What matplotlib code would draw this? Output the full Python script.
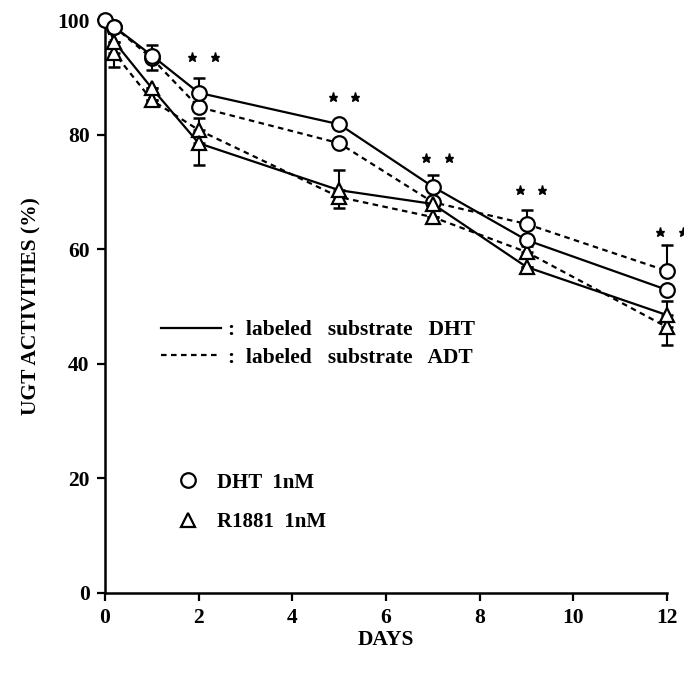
import matplotlib
matplotlib.use("Agg")
import matplotlib.pyplot as plt
from matplotlib.lines import Line2D
import numpy as np

plt.rcParams['font.family'] = ['Liberation Serif', 'DejaVu Serif']
plt.rcParams['font.weight'] = 'bold'

days = [0, 0.2, 1, 2, 5, 7, 9, 12]

# DHT 1nM (circles)
dht_sub_dht = [100, 98.8, 93.8, 87.3, 81.8, 70.9, 61.6, 52.9]   # solid
dht_sub_adt = [100, 98.8, 93.3, 84.8, 78.5, 68.2, 64.4, 56.2]   # dashed
# R1881 1nM (triangles)
r1881_sub_dht = [100, 96.2, 88.1, 78.5, 70.3, 67.9, 56.9, 48.5]  # solid
r1881_sub_adt = [100, 94.2, 86.0, 80.8, 69.1, 65.6, 59.5, 46.4]  # dashed

# error bars (lower, upper)
dht_sub_dht_lo = [0, 0, 0, 0, 0, 0, 0, 0]
dht_sub_dht_hi = [0, 0, 1.8, 2.6, 0, 2.1, 0, 0]
dht_sub_adt_lo = [0, 0, 2.0, 0, 0, 0, 0, 0]
dht_sub_adt_hi = [0, 0, 0, 0, 0, 0, 2.5, 4.5]
r1881_sub_dht_lo = [0, 0, 0, 3.8, 0, 0, 0, 0]
r1881_sub_dht_hi = [0, 0, 0, 0, 3.5, 0, 0, 2.5]
r1881_sub_adt_lo = [0, 2.4, 0, 0, 1.9, 0, 0, 3.1]
r1881_sub_adt_hi = [0, 0, 0, 2.1, 0, 0, 1.0, 0]

# significance stars
star_days = [2, 5, 7, 9, 12]
star_vals = [93.5, 86.6, 75.9, 70.3, 63.0]
star_offsets = [-0.14, 0.34]

x_ticks = [0, 2, 4, 6, 8, 10, 12]
y_ticks = [0, 20, 40, 60, 80, 100]

fig = plt.figure(figsize=(6.84, 6.74), dpi=100)
ax = fig.add_axes([105/684, 1-593/674, (667-105)/684, (593-20)/674])

lw = 1.6
ms = 10.5
dash = (0, (2.5, 2.0))

def series(y, lo, hi, marker, ls, skip_first):
    n = len(days)
    me = list(range(1, n)) if skip_first else list(range(n))
    ax.errorbar(days, y, yerr=[lo, hi], fmt='none', ecolor='black',
                elinewidth=1.5, capsize=4, capthick=1.8, clip_on=False, zorder=2)
    ax.plot(days, y, color='black', lw=lw, linestyle=ls, marker=marker,
            markersize=ms, markerfacecolor='white', markeredgecolor='black',
            markeredgewidth=1.6, markevery=me, clip_on=False, zorder=3)

series(dht_sub_adt, dht_sub_adt_lo, dht_sub_adt_hi, 'o', dash, True)
series(r1881_sub_adt, r1881_sub_adt_lo, r1881_sub_adt_hi, '^', dash, True)
series(r1881_sub_dht, r1881_sub_dht_lo, r1881_sub_dht_hi, '^', '-', True)
series(dht_sub_dht, dht_sub_dht_lo, dht_sub_dht_hi, 'o', '-', False)

for d, v in zip(star_days, star_vals):
    for o in star_offsets:
        ax.plot([d + o], [v], marker='*', color='black', markersize=6.5,
                linestyle='none', clip_on=False, zorder=4)

ax.set_xlim(0, 12)
ax.set_ylim(0, 100)
ax.set_xticks(x_ticks)
ax.set_yticks(y_ticks)
ax.tick_params(labelsize=15.5, width=1.6, length=6, pad=5)
for s in ['top', 'right']:
    ax.spines[s].set_visible(False)
for s in ['left', 'bottom']:
    ax.spines[s].set_linewidth(1.8)

ax.set_xlabel('DAYS', fontsize=15.5, fontweight='bold', labelpad=1)
ax.set_ylabel('UGT ACTIVITIES (%)', fontsize=15.5, fontweight='bold', labelpad=11)

h1 = [Line2D([], [], color='black', lw=lw, linestyle='-'),
      Line2D([], [], color='black', lw=lw, linestyle=dash)]
leg1 = ax.legend(h1, [':  labeled   substrate   DHT', ':  labeled   substrate   ADT'],
                 loc='upper left', bbox_to_anchor=(0.065, 0.51), frameon=False,
                 handlelength=2.8, handletextpad=0.3, labelspacing=0.35,
                 prop={'family': 'Liberation Serif', 'weight': 'bold', 'size': 15.5})
ax.add_artist(leg1)

h2 = [Line2D([], [], color='black', lw=0, marker='o', markersize=ms,
             markerfacecolor='white', markeredgewidth=1.6),
      Line2D([], [], color='black', lw=0, marker='^', markersize=ms,
             markerfacecolor='white', markeredgewidth=1.6)]
ax.legend(h2, ['DHT  1nM', 'R1881  1nM'], loc='upper left',
          bbox_to_anchor=(0.095, 0.243), frameon=False, handlelength=1.0,
          handletextpad=0.9, labelspacing=0.95,
          prop={'family': 'Liberation Serif', 'weight': 'bold', 'size': 15})

fig.savefig('out.png', dpi=100)
